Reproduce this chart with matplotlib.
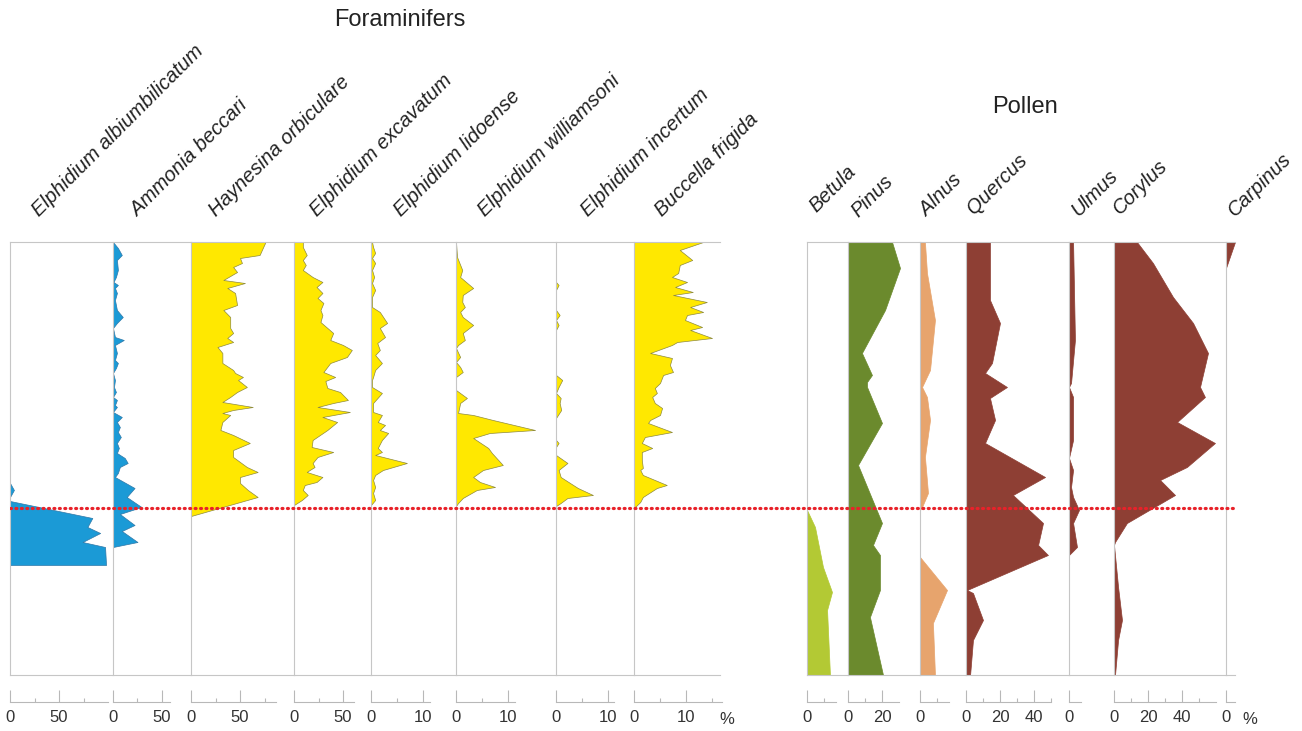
import matplotlib
matplotlib.use("Agg")
import matplotlib.pyplot as plt

plt.rcParams['font.family'] = ['Liberation Sans', 'DejaVu Sans']

# ---------------------------------------------------------------------------
# Depth (cm below the top of the section) and percentages per taxon
# ---------------------------------------------------------------------------
DEPTH_MAX = 433
BOUNDARY_DEPTH = 266

# Foraminifers
alb_depth = [241, 248, 255, 259, 276, 285, 291, 300, 305, 323]
alb_pct = [0, 4, 0, 0, 84, 79, 92, 74, 97, 98]

amm_depth = [0, 6, 13, 18, 28, 35, 40, 43, 46, 51, 58, 68, 75, 81, 86, 95, 98,
             103, 111, 118, 121, 126, 131, 138, 145, 150, 155, 158, 163, 165,
             170, 175, 180, 185, 190, 195, 201, 206, 211, 216, 221, 225, 231,
             235, 246, 255, 265, 272, 283, 289, 300, 305]
amm_pct = [0, 5, 9, 4, 5, 3, 0.5, 5, 2, 4, 2, 4, 10, 4, 0, 2, 11,
           2, 4, 2, 5, 3, 0, 2, 1, 3, 0, 4, 2, 4,
           0, 9, 4, 7, 5, 8, 4, 6, 4, 12, 15, 7, 5,
           2, 22, 14, 29, 7, 22, 9, 25, 0]

hay_depth = [0, 13, 16, 21, 25, 30, 38, 41, 46, 51, 63, 68, 75, 86, 91, 96,
             100, 105, 111, 121, 128, 131, 135, 138, 145, 150, 155, 160, 165,
             168, 171, 173, 180, 188, 193, 201, 208, 215, 225, 230, 235, 241,
             248, 255, 274]
hay_pct = [76, 70, 50, 52, 43, 47, 33, 55, 37, 45, 47, 33, 40, 40, 43, 37,
           43, 27, 32, 32, 43, 45, 53, 48, 57, 47, 40, 32, 63,
           43, 32, 40, 32, 30, 43, 60, 43, 43, 57, 68, 50, 50,
           58, 68, 0]

exc_depth = [0, 5, 13, 18, 23, 28, 35, 40, 45, 51, 56, 61, 68, 73, 80, 91, 98,
             103, 108, 115, 121, 130, 135, 139, 146, 150, 158, 161, 165, 170,
             175, 180, 188, 198, 205, 210, 215, 221, 225, 228, 230, 235, 240,
             243, 248, 253, 258, 263]
exc_pct = [9, 9, 13, 9, 12, 9, 19, 29, 23, 29, 24, 30, 27, 29, 27, 40, 37,
           50, 59, 54, 37, 30, 42, 32, 34, 47, 55, 40, 24, 57,
           29, 44, 34, 19, 18, 40, 24, 19, 21, 16, 13, 29, 23,
           11, 9, 14, 8, 0]

lid_depth = [0, 5, 11, 16, 21, 28, 35, 41, 48, 55, 65, 70, 81, 86, 95, 101,
             108, 113, 121, 128, 135, 138, 145, 151, 161, 170, 173, 180, 183,
             188, 191, 198, 206, 210, 213, 221, 228, 233, 238, 245, 251, 258,
             263]
lid_pct = [0.2, 0.4, 0.8, 0.2, 0.8, 0.2, 0.6, 0.2, 0.8, 0.2, 0.2, 1.7, 3.1,
           1.7, 2.7, 1.2, 1.7, 0.8, 2.1, 0.8, 0.4, 0.2, 0.2, 2.1, 0.4, 0.4,
           2.1, 1.3, 2.7, 1.7, 3.3, 2.1, 1.3, 2.1, 0.8, 6.9, 2.3, 0.8, 0.4,
           0.8, 0.4, 0.8, 0]

wil_depth = [0, 15, 28, 35, 46, 53, 60, 65, 70, 75, 83, 91, 98, 103, 106, 115,
             120, 125, 130, 135, 148, 156, 161, 171, 173, 178, 188, 191, 196,
             206, 211, 223, 228, 235, 240, 245, 248, 256, 261, 264]
wil_pct = [0, 0.2, 1.2, 0.8, 3.3, 1.3, 1.2, 1.7, 0.8, 1.3, 3.3, 1.3, 1.7, 0.4,
           0, 0.8, 0, 0.8, 1.3, 0, 0, 2.1, 0.8, 0.4, 3.3, 7.1, 15.2, 6.5, 3.3,
           6.2, 6.9, 9.0, 5.2, 3.3, 4.6, 7.5, 4.0, 1.3, 0.4, 0]

inc_depth = [0, 40, 43, 48, 68, 73, 78, 83, 88, 133, 138, 145, 151, 156, 161,
             168, 176, 198, 201, 205, 213, 221, 228, 235, 246, 253, 256, 261,
             264]
inc_pct = [0, 0, 0.5, 0, 0, 0.7, 0, 0.5, 0, 0, 1.2, 0.5, 0, 0.9, 0.7,
           1.0, 0, 0, 0.5, 0, 0, 2.2, 0.5, 0.9, 4.2, 7.1, 2.2, 0.9, 0]

buc_depth = [0, 8, 18, 23, 31, 35, 40, 45, 50, 53, 60, 65, 70, 73, 78, 85, 88,
             96, 100, 103, 111, 116, 123, 130, 133, 141, 146, 151, 155, 161,
             166, 173, 178, 181, 190, 195, 201, 206, 210, 218, 226, 228, 233,
             243, 246, 255, 260, 265]
buc_pct = [13.3, 8.8, 11.2, 8.8, 8.5, 7.3, 10.2, 7.9, 11.3, 7.5, 14.0, 10.8,
           13.3, 10.2, 9.8, 13.1, 10.8, 15.0, 8.3, 7.3, 3.1, 7.3, 6.9, 7.5,
           5.6, 5.0, 4.0, 4.4, 3.5, 4.0, 5.4, 5.0, 3.1, 2.7, 7.3, 2.1, 1.5,
           3.5, 1.5, 1.5, 1.7, 1.2, 1.7, 6.3, 4.4, 1.7, 1.2, 0.2]

# Pollen
bet_depth = [268, 285, 325, 350, 368, 433]
bet_pct = [0, 4.7, 9.4, 14.7, 11.8, 13.5]

pin_depth = [0, 26, 68, 111, 133, 140, 145, 181, 223, 281, 303, 313, 348, 375,
             433]
pin_pct = [25.9, 30.6, 21.8, 8.2, 14.1, 11.2, 11.2, 20.0, 5.9, 20.0, 14.7,
           18.8, 18.8, 12.9, 20.6]

aln_depth = [0, 31, 78, 128, 145, 155, 178, 215, 251, 265, 268, 315, 348, 381,
             433]
aln_pct = [2.9, 4.1, 8.8, 5.9, 1.2, 4.1, 5.9, 2.9, 4.7, 1.2, 0, 0, 15.9, 7.6,
           8.8]

que_depth = [0, 58, 81, 121, 131, 145, 156, 178, 201, 235, 253, 281, 303, 313,
             348, 351, 378, 398, 433]
que_pct = [14.1, 14.1, 20.0, 15.3, 11.2, 24.1, 14.1, 17.1, 11.2, 46.5, 27.6,
           45.3, 42.4, 48.2, 0.6, 4.1, 10.0, 4.1, 2.4]

ulm_depth = [0, 98, 141, 145, 155, 198, 216, 228, 245, 255, 268, 281, 305, 313,
             433]
ulm_pct = [2.4, 3.5, 1.2, 0, 2.4, 2.4, 0, 2.4, 1.2, 2.4, 5.9, 2.4, 4.7, 0, 0]

cor_depth = [0, 21, 55, 81, 111, 145, 155, 180, 201, 225, 238, 253, 281, 300,
             303, 345, 378, 398, 433]
cor_pct = [13.5, 22.9, 34.7, 46.5, 55.3, 50.6, 53.5, 37.1, 59.4, 42.9, 27.1,
           35.9, 7.6, 0.6, 0, 2.4, 4.7, 2.4, 0.6]

car_depth = [0, 23, 26, 433]
car_pct = [5.3, 0.6, 0, 0]

foram_names = ["Elphidium albiumbilicatum", "Ammonia beccari",
               "Haynesina orbiculare", "Elphidium excavatum",
               "Elphidium lidoense", "Elphidium williamsoni",
               "Elphidium incertum", "Buccella frigida"]
pollen_names = ["Betula", "Pinus", "Alnus", "Quercus", "Ulmus", "Corylus",
                "Carpinus"]

# ---------------------------------------------------------------------------
# Layout (pixels of a 1302 x 731 canvas)
# ---------------------------------------------------------------------------
W, H = 1302, 731
TOP, BOT = 242, 675
SCALE_Y = 702

BLUE, BLUE_EDGE = "#1b9ad6", "#2f78a8"
YELLOW, YELLOW_EDGE = "#ffe800", "#8d8a3e"
BIRCH, PINE, ALDER, BROWN = "#b3c934", "#6b8a2d", "#e7a46d", "#8e3f34"
FRAME = "#c6c6c6"

F_BIG, F_SMALL, POL = 0.98, 5.2, 1.7   # pixels per percent
LABEL_SHIFT = 7

panels = [
    # name, depth, pct, face, edge, left px, width px, px/%, bar end, majors, minors, label dx, label y
    (foram_names[0], alb_depth, alb_pct, BLUE, BLUE_EDGE, 10, 102, F_BIG, 100, [0, 50], [25, 75], 22, 217),
    (foram_names[1], amm_depth, amm_pct, BLUE, BLUE_EDGE, 113, 78, F_BIG, 58, [0, 50], [25], 18, 217),
    (foram_names[2], hay_depth, hay_pct, YELLOW, YELLOW_EDGE, 191, 103, F_BIG, 87, [0, 50], [25, 75], 18, 217),
    (foram_names[3], exc_depth, exc_pct, YELLOW, YELLOW_EDGE, 294, 77, F_BIG, 61, [0, 50], [25], 16, 217),
    (foram_names[4], lid_depth, lid_pct, YELLOW, YELLOW_EDGE, 371, 85, F_SMALL, 11.4, [0, 10], [5], 23, 217),
    (foram_names[5], wil_depth, wil_pct, YELLOW, YELLOW_EDGE, 456, 100, F_SMALL, 11.4, [0, 10], [5], 22, 217),
    (foram_names[6], inc_depth, inc_pct, YELLOW, YELLOW_EDGE, 556, 78, F_SMALL, 11.2, [0, 10], [5], 25, 217),
    (foram_names[7], buc_depth, buc_pct, YELLOW, YELLOW_EDGE, 634, 86, F_SMALL, 17, [0, 10], [5, 15], 21, 217),
    (pollen_names[0], bet_depth, bet_pct, BIRCH, BIRCH, 807, 41, POL, 17, [0], [10], 2, 213),
    (pollen_names[1], pin_depth, pin_pct, PINE, PINE, 848, 72, POL, 30, [0, 20], [10], 3, 218),
    (pollen_names[2], aln_depth, aln_pct, ALDER, ALDER, 920, 46, POL, 17, [0], [10], 0, 217),
    (pollen_names[3], que_depth, que_pct, BROWN, BROWN, 966, 103, POL, 50, [0, 20, 40], [10, 30, 50], 1, 215),
    (pollen_names[4], ulm_depth, ulm_pct, BROWN, BROWN, 1069, 45, POL, 7, [0], [], 2, 217),
    (pollen_names[5], cor_depth, cor_pct, BROWN, BROWN, 1114, 112, POL, 60, [0, 20, 40], [10, 30, 50], -1, 215),
    (pollen_names[6], car_depth, car_pct, BROWN, BROWN, 1226, 9, POL, 5, [0], [], 2, 217),
]


def fx(x):
    return x / W


def fy(y):
    return 1 - y / H


fig = plt.figure(figsize=(W / 100, H / 100), dpi=100)
fig.patch.set_facecolor("white")

for (name, depth, pct, face, edge, left, width, scale, bar_end,
     majors, minors, ldx, ly) in panels:
    xmax = width / scale
    ax = fig.add_axes([fx(left), fy(BOT), fx(width), (BOT - TOP) / H])
    ax.set_xlim(0, xmax)
    ax.set_ylim(DEPTH_MAX, 0)
    ax.patch.set_alpha(0)
    ax.fill_betweenx(depth, 0, pct, facecolor=face, edgecolor=edge,
                     linewidth=0.5, zorder=2)
    for side in ("left", "top", "bottom"):
        ax.spines[side].set_color(FRAME)
        ax.spines[side].set_linewidth(0.8)
    ax.spines["right"].set_visible(False)
    ax.set_xticks([])
    ax.set_yticks([])

    # percentage scale bar below the panel
    sb = fig.add_axes([fx(left), fy(SCALE_Y), fx(width), 0.0001])
    sb.set_xlim(0, xmax)
    sb.patch.set_alpha(0)
    for side in ("left", "top", "right"):
        sb.spines[side].set_visible(False)
    sb.spines["bottom"].set_color("#b8b8b8")
    sb.spines["bottom"].set_linewidth(0.8)
    sb.spines["bottom"].set_bounds(0, bar_end)
    sb.set_yticks([])
    sb.set_xticks(majors, labels=[str(m) for m in majors])
    sb.set_xticks(minors, minor=True)
    sb.tick_params(which="both", direction="in", color="#b8b8b8", width=0.8)
    sb.tick_params(which="major", length=8.6, pad=6, labelsize=12,
                   labelcolor="#333333")
    sb.tick_params(which="minor", length=2.9)

    # taxon name, slanted above the panel
    fig.text(fx(left + ldx + LABEL_SHIFT), fy(ly), name, rotation=45,
             rotation_mode="anchor", ha="left", va="baseline", fontsize=14.5,
             style="italic", color="#222222")

# zone boundary across both diagrams
bg = fig.add_axes([fx(10), fy(BOT), fx(1237 - 10), (BOT - TOP) / H])
bg.set_ylim(DEPTH_MAX, 0)
bg.axis("off")
bg.axhline(BOUNDARY_DEPTH, color="#e8222a", linewidth=2.3,
           linestyle=(0, (0.3, 1.4)), dash_capstyle="round", zorder=5)

fig.text(fx(727), fy(719), "%", ha="center", va="center", fontsize=12,
         color="#333333")
fig.text(fx(1250), fy(719), "%", ha="center", va="center", fontsize=12,
         color="#333333")

fig.text(fx(400), fy(20), "Foraminifers", ha="center", va="center",
         fontsize=17, color="#222222")
fig.text(fx(1025), fy(107), "Pollen", ha="center", va="center",
         fontsize=17, color="#222222")

fig.savefig("out.png", dpi=100, facecolor="white")
